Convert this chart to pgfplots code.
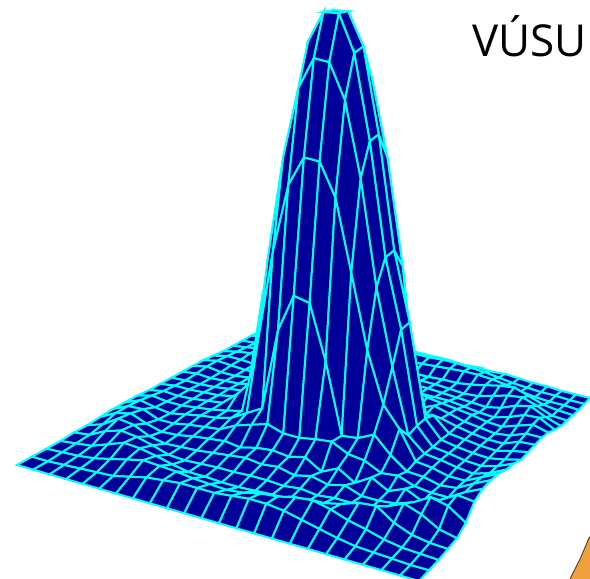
\documentclass[border=0pt]{standalone}
\usepackage{fontspec}
\setmainfont{Open Sans}
\usepackage{pgfplots}
\pgfplotsset{compat=1.18}
\definecolor{surfblue}{RGB}{0,0,153}
\definecolor{wire}{RGB}{0,255,255}
\definecolor{photo}{RGB}{240,160,60}
\begin{document}
\begin{tikzpicture}
\useasboundingbox (0,0) rectangle (590pt,579pt);
\begin{axis}[
    scale only axis, width=590pt, height=579pt,
    xmin=0, xmax=590, ymin=0, ymax=579, zmin=-1, zmax=1,
    view={0}{90}, hide axis,
    colormap={deep}{color=(surfblue) color=(surfblue)},
    point meta min=-1, point meta max=1,
    % ground plane corners in picture pixels, grid of 24 x 24 nodes
    declare function={
      uu(\n)=floor((\n+0.5)/24)/23;
      vv(\n)=(\n-24*floor((\n+0.5)/24))/23;
      ww(\n)=1-0.2477*uu(\n)-0.0561*vv(\n);
      gx(\n)=(-265.21*uu(\n)+278.9*vv(\n)+278)/ww(\n);
      gy(\n)=(28.8*uu(\n)+54.67*vv(\n)+321)/ww(\n);
    },
  ]

  % scrap of the neighbouring photo, bottom right
  \addplot[fill=photo, draw=black!70!photo, line width=0.8pt] coordinates {(570,0) (581,22) (589,41) (592,44) (592,-2) (570,-2)};

  % heights in pixels, one line for each row of the grid
  \addplot3[surf, shader=faceted, faceted color=wire, line width=2pt,
      mesh/rows=24, mesh/cols=24, z buffer=none, point meta=0]
    table[row sep=crcr, header=false,
      x expr={gx(\coordindex)},
      y expr={579-gy(\coordindex)+\thisrowno{0}},
      z expr=0] {
0\\0\\0\\0\\0\\1\\1\\1\\2\\3\\3\\3\\3\\3\\2\\3\\2\\3\\2\\1\\1\\0\\0\\0\\
0\\0\\1\\1\\1\\2\\3\\4\\5\\6\\7\\8\\8\\9\\9\\8\\7\\5\\3\\2\\1\\1\\0\\0\\
0\\1\\1\\1\\2\\3\\4\\5\\6\\6\\6\\6\\7\\8\\9\\10\\10\\9\\7\\4\\2\\1\\1\\0\\
0\\1\\2\\3\\5\\6\\5\\4\\3\\3\\3\\3\\3\\3\\4\\4\\6\\9\\12\\14\\9\\4\\2\\1\\
0\\1\\2\\4\\6\\5\\4\\3\\3\\4\\4\\5\\5\\5\\5\\4\\3\\4\\8\\12\\14\\9\\3\\2\\
0\\2\\4\\6\\5\\3\\2\\3\\4\\6\\7\\7\\7\\7\\7\\6\\5\\4\\3\\6\\12\\15\\8\\3\\
0\\3\\5\\5\\3\\2\\3\\5\\7\\7\\8\\10\\10\\9\\8\\8\\8\\6\\4\\3\\7\\13\\14\\6\\
1\\4\\4\\3\\3\\4\\6\\8\\10\\14\\20\\27\\27\\26\\22\\14\\12\\10\\8\\5\\4\\9\\14\\10\\
2\\5\\4\\3\\4\\6\\9\\16\\25\\60\\120\\155\\155\\120\\60\\10\\16\\12\\8\\6\\4\\6\\12\\12\\
2\\5\\3\\3\\5\\8\\12\\60\\110\\183\\254\\286\\286\\254\\183\\80\\14\\14\\10\\7\\5\\5\\11\\12\\
2\\4\\3\\4\\5\\8\\18\\90\\165\\270\\344\\378\\378\\344\\270\\165\\15\\24\\10\\8\\6\\5\\9\\12\\
2\\3\\3\\4\\6\\8\\18\\120\\188\\300\\384\\412\\415\\384\\300\\188\\120\\28\\11\\8\\6\\5\\8\\12\\
2\\4\\4\\5\\6\\9\\20\\120\\188\\300\\384\\417\\420\\384\\300\\188\\120\\28\\11\\9\\6\\5\\9\\16\\
2\\5\\4\\5\\7\\9\\22\\40\\165\\270\\344\\378\\378\\344\\270\\165\\90\\26\\12\\10\\7\\5\\10\\18\\
3\\7\\5\\5\\7\\9\\12\\16\\86\\183\\254\\286\\286\\254\\183\\110\\60\\40\\12\\10\\6\\6\\14\\22\\
3\\9\\6\\4\\7\\10\\12\\16\\25\\34\\116\\155\\152\\98\\28\\30\\38\\22\\10\\9\\5\\7\\16\\24\\
3\\10\\11\\5\\5\\8\\10\\12\\20\\25\\30\\25\\25\\28\\30\\22\\20\\12\\14\\8\\6\\6\\16\\24\\
2\\10\\14\\8\\4\\5\\8\\10\\12\\10\\14\\16\\14\\18\\8\\16\\6\\16\\7\\14\\6\\12\\22\\20\\
1\\6\\16\\14\\7\\4\\5\\6\\8\\10\\12\\10\\12\\8\\12\\8\\12\\6\\6\\8\\14\\24\\20\\8\\
1\\3\\11\\16\\14\\10\\5\\4\\5\\6\\6\\7\\7\\6\\8\\6\\8\\8\\6\\14\\22\\16\\6\\2\\
0\\2\\4\\10\\16\\15\\12\\8\\5\\5\\4\\4\\5\\6\\6\\8\\12\\16\\22\\24\\12\\5\\2\\1\\
0\\1\\2\\4\\8\\12\\16\\15\\14\\12\\11\\10\\12\\16\\18\\22\\24\\20\\14\\10\\5\\2\\1\\0\\
0\\0\\1\\2\\3\\4\\8\\12\\14\\16\\16\\16\\18\\20\\20\\18\\14\\10\\6\\3\\2\\1\\0\\0\\
0\\0\\0\\0\\0\\0\\0\\0\\0\\0\\0\\0\\0\\0\\0\\0\\0\\0\\0\\0\\0\\0\\0\\0\\
};

  \node[anchor=base west, inner sep=0pt, font=\fontsize{44}{48}\selectfont, text=black] at (axis cs:472,523) {VÚSU};
\end{axis}
\end{tikzpicture}
\end{document}
